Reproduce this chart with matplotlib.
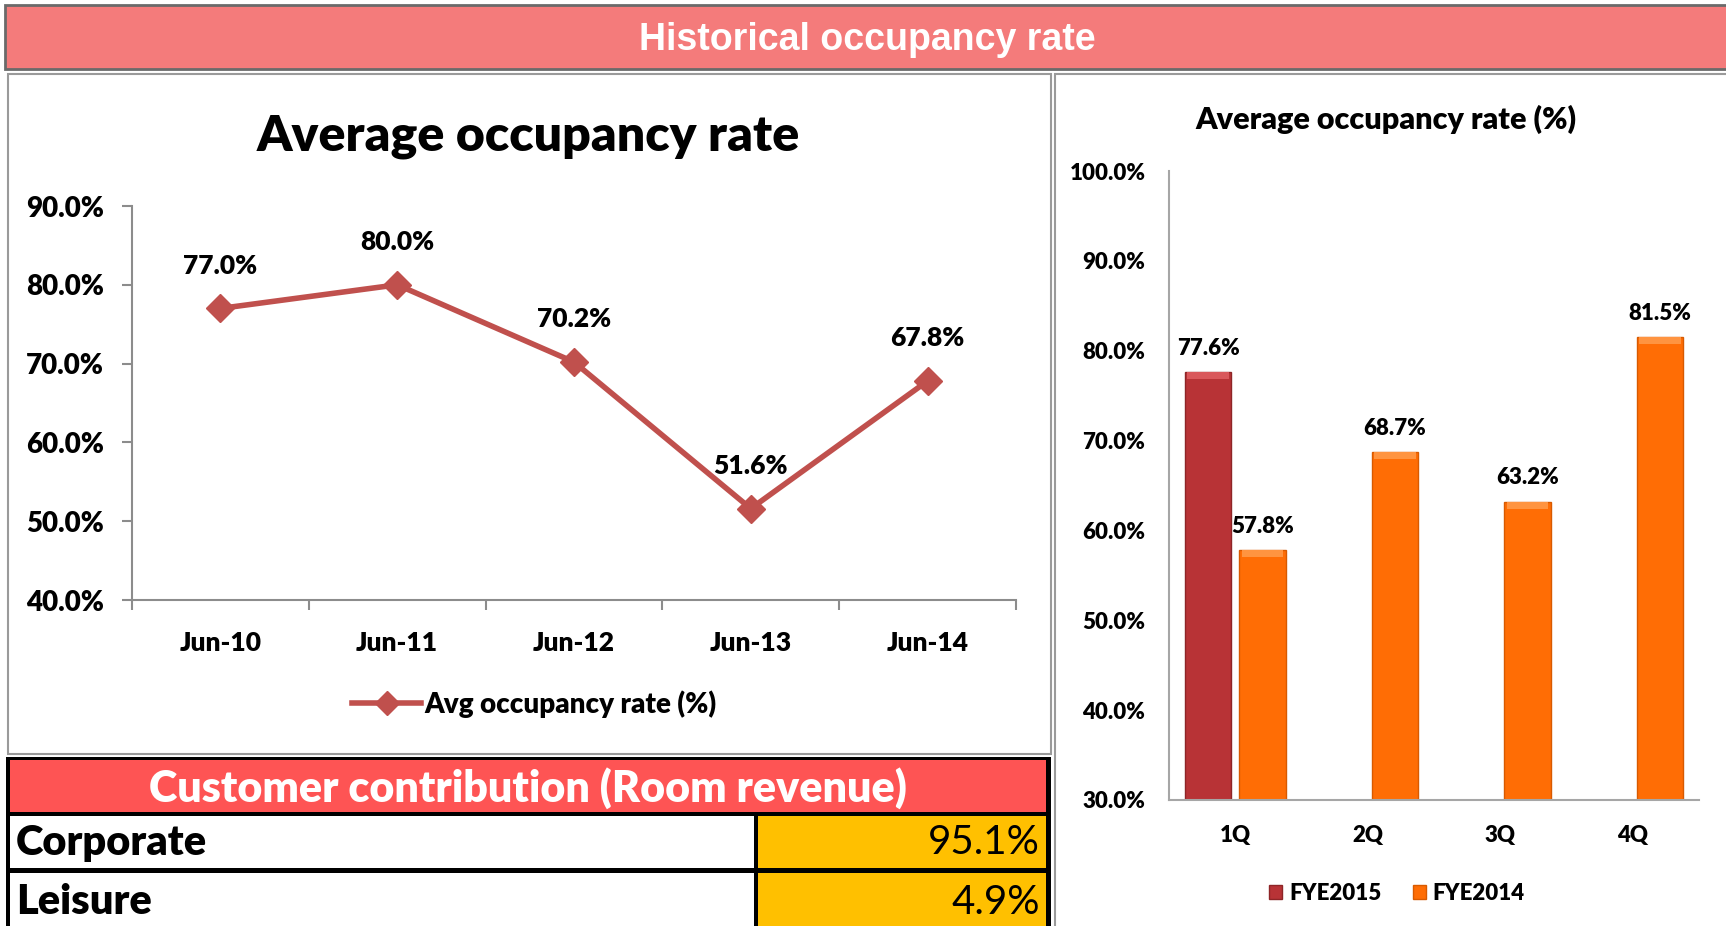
import matplotlib
matplotlib.use('Agg')
import matplotlib.pyplot as plt
import numpy as np
from matplotlib.patches import Rectangle

plt.rcParams['font.family'] = ['Lato', 'DejaVu Sans']

# data
years = ['Jun-10', 'Jun-11', 'Jun-12', 'Jun-13', 'Jun-14']
avg_occ = [77.0, 80.0, 70.2, 51.6, 67.8]

quarters = ['1Q', '2Q', '3Q', '4Q']
fye2015 = [77.6, np.nan, np.nan, np.nan]
fye2014 = [57.8, 68.7, 63.2, 81.5]

segments = ['Corporate', 'Leisure']
contrib = ['95.1%', '4.9%']

BOLD = 'heavy'
W, H = 1726, 926
fig = plt.figure(figsize=(W / 100, H / 100), dpi=100)

# background layer in pixel coords
bg = fig.add_axes([0, 0, 1, 1])
bg.set_xlim(0, W)
bg.set_ylim(H, 0)
bg.axis('off')

def box(x0, y0, x1, y1, fc, ec='none', lw=0):
    bg.add_patch(Rectangle((x0, y0), x1 - x0, y1 - y0, facecolor=fc, edgecolor=ec, linewidth=lw))

# top banner
box(5, 5, 1730, 69, '#F47B7B', '#6A6A6A', 2)
bg.text(867, 40, 'Historical occupancy rate', color='white', fontsize=27, fontweight='bold',
        ha='center', va='center', family=['Liberation Sans', 'DejaVu Sans'])

# panels
box(8, 74, 1051, 754, 'white', '#9A9A9A', 1.5)
box(1055, 74, 1730, 930, 'white', '#9A9A9A', 1.5)

# table
box(6, 757, 1051, 930, 'black')
box(10, 760, 1046, 812, '#FE5454')
bg.text(528, 788, 'Customer contribution (Room revenue)', color='white', fontsize=31,
        fontweight=BOLD, ha='center', va='center')
rows_y = [(816, 868), (873, 930)]
for (y0, y1), name, val in zip(rows_y, segments, contrib):
    box(10, y0, 754, y1, 'white')
    box(758, y0, 1046, y1, '#FFC000')
    bg.text(16, (y0 + y1) / 2 + 1, name, fontsize=30, fontweight=BOLD, ha='left', va='center')
    bg.text(1040, (y0 + y1) / 2 + 1, val, fontsize=29, ha='right', va='center')

# left line chart
ax1 = fig.add_axes([132 / W, 1 - 600 / H, 884 / W, 394 / H])
x = np.arange(len(years))
ax1.plot(x, avg_occ, color='#C0504D', lw=4, marker='D', ms=14, label='Avg occupancy rate (%)')
for xi, v in zip(x, avg_occ):
    ax1.text(xi, v + 5.4, f'{v:.1f}%', ha='center', va='center', fontsize=19, fontweight=BOLD)
ax1.set_xlim(-0.5, len(years) - 0.5)
ax1.set_ylim(40, 90)
ax1.set_yticks(np.arange(40, 91, 10))
ax1.set_yticklabels([f'{v:.1f}%' for v in np.arange(40, 91, 10)], fontsize=20, fontweight=BOLD)
ax1.set_xticks(np.arange(-0.5, len(years), 1.0))
ax1.set_xticklabels([])
ax1.set_xticks(x, minor=True)
ax1.set_xticklabels(years, minor=True, fontsize=19, fontweight=BOLD)
ax1.tick_params(axis='x', which='minor', length=0, pad=22)
ax1.tick_params(axis='x', which='major', length=7, color='#8C8C8C', width=1.5)
ax1.tick_params(axis='y', length=7, color='#8C8C8C', width=1.5, pad=13)
for s in ['top', 'right']:
    ax1.spines[s].set_visible(False)
for s in ['left', 'bottom']:
    ax1.spines[s].set_color('#8C8C8C')
    ax1.spines[s].set_linewidth(1.5)
ax1.set_title('Average occupancy rate', fontsize=36, fontweight=BOLD, pad=40, x=0.448)
ax1.legend(loc='upper center', bbox_to_anchor=(0.455, -0.165), frameon=False,
           prop={'weight': BOLD, 'size': 20}, handlelength=2.5, handletextpad=0.1, markerscale=0.9)

# right bar chart
ax2 = fig.add_axes([1169 / W, 1 - 800 / H, 530 / W, 629 / H])
q = np.arange(len(quarters))
bw = 0.35
cap = 0.8
b15 = np.array(fye2015)
b14 = np.array(fye2014)
ax2.bar(q - 0.205, b15, bw, color='#B83336', edgecolor='#8E2527', lw=1, label='FYE2015')
ax2.bar(q + 0.205, b14, bw, color='#FF6D05', edgecolor='#D85A00', lw=1, label='FYE2014')
# light bevel on top of bars
ax2.bar(q - 0.205, cap, bw * 0.9, bottom=b15 - cap, color='#D9585B', lw=0)
ax2.bar(q + 0.205, cap, bw * 0.9, bottom=b14 - cap, color='#FF9440', lw=0)
for qi, v in zip(q, fye2015):
    if not np.isnan(v):
        ax2.text(qi - 0.205, v + 1.5, f'{v:.1f}%', ha='center', va='bottom', fontsize=16, fontweight=BOLD)
for qi, v in zip(q, fye2014):
    ax2.text(qi + 0.205, v + 1.5, f'{v:.1f}%', ha='center', va='bottom', fontsize=16, fontweight=BOLD)
ax2.set_xlim(-0.5, len(quarters) - 0.5)
ax2.set_ylim(30, 100)
ax2.set_yticks(np.arange(30, 101, 10))
ax2.set_yticklabels([f'{v:.1f}%' for v in np.arange(30, 101, 10)], fontsize=16, fontweight=BOLD)
ax2.set_xticks(q)
ax2.set_xticklabels(quarters, fontsize=16, fontweight=BOLD)
ax2.tick_params(axis='both', length=0)
ax2.tick_params(axis='y', pad=17)
ax2.tick_params(axis='x', pad=18)
for s in ['top', 'right']:
    ax2.spines[s].set_visible(False)
for s in ['left', 'bottom']:
    ax2.spines[s].set_color('#A6A6A6')
    ax2.spines[s].set_linewidth(1.5)
ax2.set_title('Average occupancy rate (%)', fontsize=22, fontweight=BOLD, pad=30, x=0.41)
ax2.legend(loc='upper center', bbox_to_anchor=(0.43, -0.1), ncol=2, frameon=False,
           prop={'weight': BOLD, 'size': 16}, handlelength=0.6, handleheight=0.6,
           handletextpad=0.3, columnspacing=1.4)

fig.savefig('out.png', dpi=100)
